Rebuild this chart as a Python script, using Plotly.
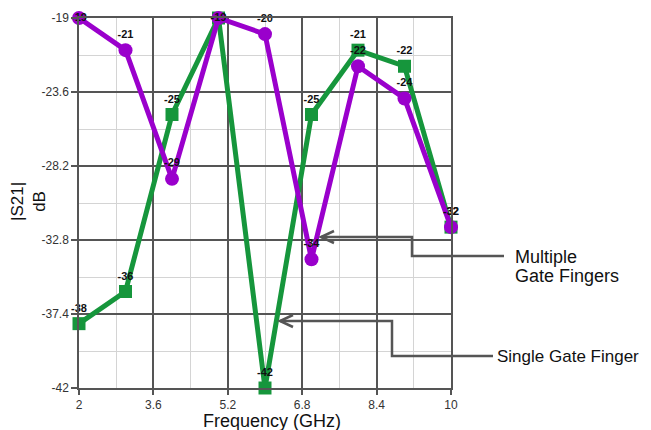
import plotly.graph_objects as go

freq = [2, 3, 4, 5, 6, 7, 8, 9, 10]
single_gate = [-38, -36, -25, -19, -42, -25, -21, -22, -32]
multiple_gate = [-19, -21, -29, -19, -20, -34, -22, -24, -32]
x_ticks = [2, 3.6, 5.2, 6.8, 8.4, 10]
y_ticks = [-19, -23.6, -28.2, -32.8, -37.4, -42]

PURPLE = "#9a00cc"
GREEN = "#16963c"
FONT = "Liberation Sans, Arial, sans-serif"

# page has an 8px body margin; figure sized to fit the 651x430 window
OFF = 8
W, H = 651 - OFF, 430 - OFF
# plot area in page pixels: x 79..451, y 18..388
L, R, T, B = 79 - OFF, 651 - 451, 18 - OFF, 430 - 388
PW, PH = W - L - R, H - T - B


def px(x):
    return (x - OFF - L) / PW


def py(y):
    return (T + PH - (y - OFF)) / PH


def text_pos(vals):
    return ["middle center" if v >= -19 else "top center" for v in vals]


fig = go.Figure()
fig.add_trace(go.Scatter(
    x=freq, y=single_gate, mode="lines+markers+text", name="Single Gate Finger",
    line=dict(color=GREEN, width=5),
    marker=dict(symbol="square", size=13, color=GREEN),
    text=[f"<b>{v}</b>" for v in single_gate], textposition=text_pos(single_gate),
    textfont=dict(family=FONT, size=11, color="#111"),
    cliponaxis=False,
))
fig.add_trace(go.Scatter(
    x=freq, y=multiple_gate, mode="lines+markers+text", name="Multiple Gate Fingers",
    line=dict(color=PURPLE, width=5),
    marker=dict(symbol="circle", size=14, color=PURPLE),
    text=[f"<b>{v}</b>" for v in multiple_gate], textposition=text_pos(multiple_gate),
    textfont=dict(family=FONT, size=11, color="#111"),
    cliponaxis=False,
))

shapes = []
arrow_col = "#555555"


def poly(points):
    d = "M " + " L ".join(f"{px(a)},{py(b)}" for a, b in points)
    shapes.append(dict(type="path", xref="paper", yref="paper", path=d,
                       line=dict(color=arrow_col, width=2.5), layer="above"))


# Multiple gate fingers callout
poly([(504, 256), (412, 256), (412, 237), (321, 237)])
poly([(334, 231), (321, 237), (334, 243)])
# Single gate finger callout
poly([(493, 356), (392, 356), (392, 321), (280, 321)])
poly([(293, 315), (280, 321), (293, 327)])

BIG = 18
annotations = [
    dict(x=px(513), y=py(257), xref="paper", yref="paper", xanchor="left", yanchor="middle",
         text="Multiple", showarrow=False, align="left",
         font=dict(family=FONT, size=BIG, color="#111")),
    dict(x=px(513), y=py(276), xref="paper", yref="paper", xanchor="left", yanchor="middle",
         text="Gate Fingers", showarrow=False, align="left",
         font=dict(family=FONT, size=BIG, color="#111")),
    dict(x=px(495), y=py(356), xref="paper", yref="paper", xanchor="left", yanchor="middle",
         text="Single Gate Finger", showarrow=False, align="left",
         font=dict(family=FONT, size=17, color="#111")),
    dict(x=px(28), y=py(202), xref="paper", yref="paper", xanchor="center", yanchor="middle",
         text="|S21|<br>dB", showarrow=False, textangle=-90, align="center",
         font=dict(family=FONT, size=17, color="#111")),
    dict(x=px(272), y=py(421), xref="paper", yref="paper", xanchor="center", yanchor="middle",
         text="Frequency (GHz)", showarrow=False,
         font=dict(family=FONT, size=BIG, color="#111")),
]

fig.update_layout(
    width=W, height=H,
    margin=dict(l=L, r=R, t=T, b=B, autoexpand=False),
    paper_bgcolor="white", plot_bgcolor="white",
    showlegend=False,
    shapes=shapes, annotations=annotations,
    font=dict(family=FONT),
)
fig.update_xaxes(
    range=[2, 10], tickvals=x_ticks, ticktext=[f"{v:g}" for v in x_ticks],
    showgrid=True, gridcolor="#555555", gridwidth=1.5,
    minor=dict(dtick=0.8, tick0=2, showgrid=True, gridcolor="#d4d4d4", gridwidth=1),
    showline=True, linecolor="#555555", linewidth=1.5, mirror=True,
    ticks="outside", ticklen=5, tickcolor="#555555", tickwidth=1.5,
    tickfont=dict(family=FONT, size=12, color="#333"),
    zeroline=False,
)
fig.update_yaxes(
    range=[-42, -19], tickvals=y_ticks, ticktext=[f"{v:g}" for v in y_ticks],
    showgrid=True, gridcolor="#555555", gridwidth=1.5,
    minor=dict(dtick=2.3, tick0=-42, showgrid=True, gridcolor="#d4d4d4", gridwidth=1),
    showline=True, linecolor="#555555", linewidth=1.5, mirror=True,
    ticks="outside", ticklen=6, tickcolor="#555555", tickwidth=1.5,
    tickfont=dict(family=FONT, size=12, color="#333"),
    zeroline=False,
)

fig.write_html("out.html")
